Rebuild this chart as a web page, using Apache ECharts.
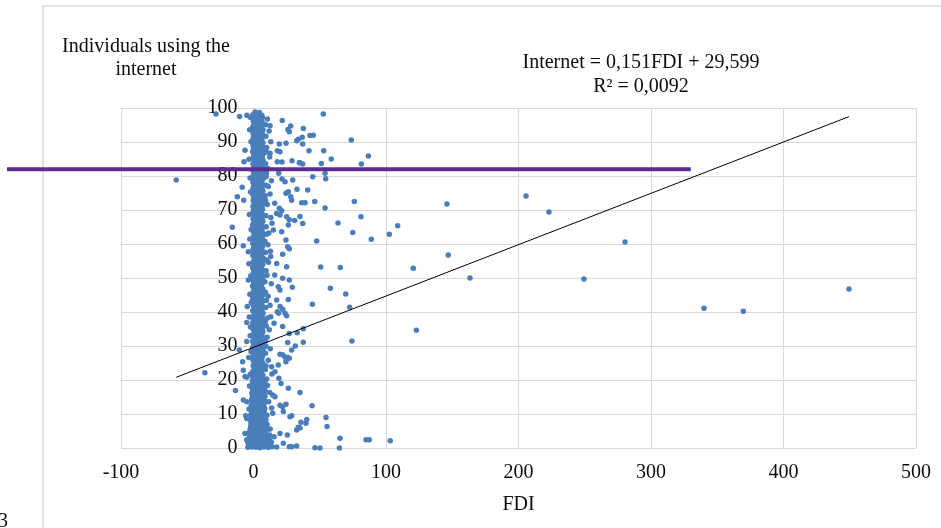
<!DOCTYPE html>
<html>
<head>
<meta charset="utf-8">
<script src="https://cdn.jsdelivr.net/npm/echarts@6/dist/echarts.min.js"></script>
<style>
  html, body { margin: 0; padding: 0; background: #ffffff; }
  #chart { width: 941px; height: 528px; }
</style>
</head>
<body>
<div id="chart"></div>
<script>
// FDI (x) versus individuals using the internet (y), one point per observation.

// Axis ticks
const xTicks = [-100, 0, 100, 200, 300, 400, 500];
const yTicks = [0, 10, 20, 30, 40, 50, 60, 70, 80, 90, 100];

// Linear fit reported on the chart
const fitSlope = 0.151;
const fitIntercept = 29.599;
const fitLabel = 'Internet = 0,151FDI + 29,599\nR\u00B2 = 0,0092';

// Reference level drawn as a horizontal band marker
const markerLevel = 82;
const markerRightFDI = 330;

// Observations far from the main cluster
const farPoints = [
  [52.7,98.2],[37.6,94.0],[42.6,91.9],[45.1,92.0],[36.8,91.4],[37.1,89.4],[73.8,90.6],[41.9,87.4],
  [53,87.4],[58.7,85.0],[86.7,85.9],[51.2,83.7],[81.4,83.5],[37.1,83.5],[35.1,83.9],[54,80.8],
  [54.5,79.2],[44.7,79.8],[40.9,75.9],[36.4,72.1],[38.9,72.1],[46.2,72.5],[76.1,72.5],[54,70.6],
  [146,71.8],[35.1,68.1],[81.1,68.0],[37.1,66.0],[63.8,66.2],[108.8,65.4],[74.9,63.4],[102.5,62.9],
  [88.9,61.4],[47.7,60.9],[147,56.8],[50.7,53.2],[65.5,53.1],[120.6,52.9],[163.4,50.0],[58,47.0],
  [69.6,45.3],[44.4,42.3],[72.6,41.4],[37.6,35.1],[122.9,34.6],[37.6,31.1],[74.3,31.5],[35.1,16.3],
  [44.2,12.4],[35.8,7.6],[39.6,7.3],[40.2,8.4],[35.1,5.9],[54.7,9.0],[55.5,6.3],[65.3,2.9],
  [84.9,2.4],[87.4,2.4],[103.2,2.1],[46.4,0.1],[50.2,0],[64.8,0],
  [280.4,60.6],[340,41.1],[369.7,40.2],[449.4,46.8],[205.7,74.1],[223,69.4],[249.4,49.7]
];

// Negative FDI observations
const negativePoints = [
  [-58.3,78.8],[-28.3,98.2],[-36.7,22.1],[-13.6,16.9],[-10.5,97.5],[-5,97.9],[-6.4,87.6],[-7.2,84.2],
  [-8.5,76.7],[-12.2,73.9],[-7.4,72.9],[-16,64.9],[-7.7,59.5],[-3.9,57.7],[-10.7,28.8],[-5.1,36.9],
  [-4.7,41.6],[-8.2,25.4],[-7.7,22.9],[-6.4,21],[-5.1,20.8],[-7.7,14.1],[-5.1,13.6],[-5.9,9.5],
  [-5.1,8.7],[-6.4,4.3],[-5.1,2.4],[-3.9,49.4],[-5.1,31.3]
];

// Observations just to the right of the cluster (FDI roughly 10 to 35)
const nearPoints = [
  [12.5,94.8],[21.7,96.3],[28.1,94.7],[26,93.7],[27,93],[33.8,90.8],[32.6,90.4],[13,90.1],
  [19.5,89.4],[24.5,89.6],[18,87.4],[20,87.1],[12.5,86.7],[18,84.2],[21.5,84.1],[29.1,84.5],
  [34.6,83.9],[19,80.8],[21.5,79.1],[23.8,78.3],[29.6,78.8],[26.3,75.4],[24.5,74.9],[32.8,76.1],
  [12.5,74.7],[28.1,73.9],[28.8,72.9],[16,72],[19.5,70.5],[21.3,69.8],[17.5,69],[20,68.5],
  [25,68],[27,67.1],[14,66.1],[31.1,66.9],[26.3,65.6],[21.3,63.6],[15,64.1],[24.5,61.2],
  [25.8,59.2],[27,58.6],[22,57],[13,56.3],[17.5,54.3],[25,53.3],[16,50.9],[22,49.9],
  [27,49.4],[18.7,47.4],[20,46.5],[29.3,47.3],[26.3,43.7],[17.5,43.5],[20,41.6],[22,40.8],
  [18,40.1],[19,39.6],[23.8,39.6],[25,38.9],[13,38.6],[15.5,36.7],[22,35.7],[33,33.9],
  [27,33.7],[25.8,31],[31.5,30],[28.8,28.8],[22,27.4],[23.8,26.7],[25.5,26.7],[27,26.4],
  [20,27.6],[24.5,25.4],[18.7,24.4],[13.7,23.9],[16.2,22.4],[19.2,20.5],[20.8,19],[26.3,17.6],
  [14.5,15.6],[16.2,15.1],[20,12.6],[22,12.1],[24.5,12.9],[14.5,10.2],[22.5,10.7],[27.5,9.2],
  [28.8,9.5],[32.6,5.3],[33.8,6.1],[20,4.3],[25.5,3.8],[15.5,3.3],[27,0.4],[28.8,0.4],
  [32.6,0.6],[22.5,1.4]
];

// Edge of the cluster (FDI about -4 and 9 to 14)
const edgePoints = [
  [10.5,96.8],[11.8,93.2],[9.9,88.4],[12.2,85.6],[10.8,82.2],[13.5,78.6],[11.2,76.9],[10.4,71.6],
  [13.1,67.8],[11.6,63.2],[10.9,59.8],[12.8,57.9],[11.3,54.6],[10.2,50.8],[13.4,48.3],[11.0,44.6],
  [12.5,42.0],[10.6,38.2],[11.9,34.8],[10.3,32.6],[12.7,29.2],[11.1,25.8],[13.9,21.8],[10.6,18.4],
  [12.2,16.3],[11.5,13.6],[13.7,11.8],[-2.9,93.6],[-3.4,84.9],[-2.6,79.4],[-3.1,68.7],[-2.8,61.5],
  [-3.5,54.2],[-2.7,45.2],[-3.2,38.5],[-2.5,33.0],[-3.6,26.6],[-3.0,18.2],[-3.4,11.5],
  [9.3,95.1],[8.8,86.9],[9.5,79.8],[8.9,74.2],[9.6,65.1],[8.7,60.7],[9.8,55.3],[8.6,48.9],
  [9.7,43.4],[8.8,37.1],[9.4,29.9],[8.9,23.1],[9.9,20.3],[-1.9,90.1],[-2.2,75.3],[-1.8,64.3],
  [-2.1,50.6],[-1.7,42.8],[-2.3,35.6],[-1.9,28.4],[-2.4,21.7]
];

// Main cluster near zero FDI, by band of internet use
const cluster0to10 = [
  [-4.2,0.2],[-1.3,0.3],[1.8,0.2],[4.9,0.1],[8.0,0.3],[11.2,0.2],[14.0,0.4],[17.5,0.3],
  [-3.8,1.0],[-0.9,1.1],[2.2,0.9],[5.3,1.0],[8.4,1.2],[11.6,0.9],
  [-4.4,1.9],[-1.5,1.8],[1.6,2.0],[4.6,1.9],[7.7,1.8],[10.8,2.0],[13.5,1.7],
  [-3.6,2.7],[-0.7,2.8],[2.4,2.6],[5.5,2.7],[8.7,2.9],[11.9,2.6],
  [-2.9,3.6],[0.2,3.5],[3.3,3.7],[6.4,3.6],[9.5,3.4],[12.3,3.8],
  [-3.2,4.5],[-0.1,4.6],[3.0,4.4],[6.1,4.5],[9.1,4.7],
  [-2.6,5.4],[0.5,5.3],[3.6,5.5],[6.7,5.4],[9.8,5.2],[12.6,5.6],
  [-2.1,6.3],[0.8,6.2],[3.9,6.4],[7.0,6.3],[9.9,6.5],
  [-1.8,7.2],[1.1,7.1],[4.2,7.3],[7.3,7.2],[10.2,7.0],
  [-2.3,8.1],[0.6,8.2],[3.7,8.0],[6.8,8.1],[9.4,8.3],
  [-1.6,9.0],[1.3,9.1],[4.4,8.9],[7.5,9.0],
  [-2.0,9.8],[0.9,9.9],[4.0,9.7],[7.1,9.8],[10.1,9.6]
];
const cluster10to20 = [
  [-1.5,10.7],[1.7,10.6],[4.9,10.8],[8.0,10.7],
  [-0.9,11.6],[2.3,11.7],[5.4,11.5],[8.5,11.6],
  [-1.7,12.5],[1.4,12.4],[4.6,12.6],[7.7,12.5],
  [-1.1,13.4],[2.0,13.5],[5.2,13.3],[8.3,13.4],
  [-1.4,14.3],[1.8,14.2],[5.0,14.4],[8.1,14.3],
  [-0.8,15.2],[2.4,15.3],[5.6,15.1],[8.6,15.2],
  [-1.2,16.1],[1.9,16.0],[5.1,16.2],[7.9,16.1],
  [-0.6,17.0],[2.6,17.1],[5.7,16.9],[8.7,17.0],
  [-1.0,17.9],[2.1,17.8],[5.3,18.0],[8.2,17.9],
  [-0.5,18.8],[2.7,18.9],[5.8,18.7],[8.8,18.8],
  [-0.9,19.7],[2.3,19.6],[5.5,19.8],[8.4,19.7]
];
const cluster20to30 = [
  [-0.4,20.6],[3.1,20.5],[6.5,20.7],[0.2,21.5],[3.6,21.6],[7.0,21.4],
  [-0.7,22.4],[2.8,22.3],[6.1,22.5],[0.5,23.3],[3.9,23.4],[7.3,23.2],
  [-0.2,24.2],[3.3,24.1],[6.6,24.3],[9.4,24.2],[0.4,25.1],[3.7,25.2],[6.9,25.0],
  [-0.6,26.0],[2.9,26.1],[6.2,25.9],[0.1,26.9],[3.5,26.8],[6.8,27.0],
  [-0.3,27.8],[3.0,27.9],[6.4,27.7],[9.1,27.9],[0.6,28.7],[4.0,28.6],[7.2,28.8],
  [-0.5,29.6],[2.9,29.5],[6.3,29.7]
];
const cluster30to40 = [
  [0.3,30.5],[3.6,30.4],[6.9,30.6],[-0.6,31.4],[2.8,31.5],[6.1,31.3],[8.9,31.4],
  [0.2,32.3],[3.5,32.2],[6.7,32.4],[-0.4,33.2],[3.0,33.3],[6.4,33.1],
  [0.5,34.1],[3.9,34.0],[7.1,34.2],[-0.2,35.0],[3.2,35.1],[6.5,34.9],
  [0.4,35.9],[3.8,35.8],[7.0,36.0],[9.6,35.9],[-0.7,36.8],[2.7,36.9],[6.0,36.7],
  [0.0,37.7],[3.4,37.6],[6.7,37.8],[-0.3,38.6],[3.1,38.7],[6.5,38.5],
  [0.6,39.5],[3.9,39.4],[7.2,39.6]
];
const cluster40to50 = [
  [-0.5,40.4],[2.9,40.5],[6.3,40.3],[0.2,41.3],[3.6,41.2],[6.9,41.4],[9.3,41.3],
  [-0.4,42.2],[3.0,42.3],[6.4,42.1],[0.5,43.1],[3.8,43.0],[7.1,43.2],
  [-0.6,44.0],[2.8,44.1],[6.2,43.9],[0.3,44.9],[3.7,44.8],[7.0,45.0],
  [-0.2,45.8],[3.2,45.9],[6.6,45.7],[9.0,45.8],[0.4,46.7],[3.8,46.6],[7.1,46.8],
  [-0.7,47.6],[2.7,47.7],[6.0,47.5],[0.1,48.5],[3.5,48.4],[6.8,48.6],
  [-0.3,49.4],[3.1,49.5],[6.5,49.3]
];
const cluster50to60 = [
  [0.5,50.3],[3.9,50.2],[7.2,50.4],[-0.4,51.2],[3.0,51.3],[6.4,51.1],
  [0.2,52.1],[3.6,52.0],[6.9,52.2],[9.5,52.1],[-0.6,53.0],[2.8,53.1],[6.1,52.9],
  [0.4,53.9],[3.8,53.8],[7.0,54.0],[-0.2,54.8],[3.3,54.9],[6.6,54.7],
  [0.6,55.7],[4.0,55.6],[7.3,55.8],[-0.5,56.6],[2.9,56.7],[6.2,56.5],
  [0.1,57.5],[3.5,57.4],[6.8,57.6],[9.2,57.5],[-0.3,58.4],[3.1,58.5],[6.5,58.3],
  [0.3,59.3],[3.7,59.2],[7.0,59.4]
];
const cluster60to70 = [
  [-0.6,60.2],[2.8,60.3],[6.2,60.1],[0.4,61.1],[3.8,61.0],[7.1,61.2],
  [-0.2,62.0],[3.2,62.1],[6.6,61.9],[0.5,62.9],[3.9,62.8],[7.2,63.0],[9.7,62.9],
  [-0.4,63.8],[3.0,63.9],[6.4,63.7],[0.2,64.7],[3.6,64.6],[6.9,64.8],
  [-0.7,65.6],[2.7,65.7],[6.1,65.5],[0.3,66.5],[3.7,66.4],[7.0,66.6],
  [-0.3,67.4],[3.1,67.5],[6.5,67.3],[0.6,68.3],[4.0,68.2],[7.3,68.4],[9.4,68.3],
  [-0.5,69.2],[2.9,69.3],[6.3,69.1]
];
const cluster70to80 = [
  [0.1,70.1],[3.5,70.0],[6.8,70.2],[-0.4,71.0],[3.0,71.1],[6.4,70.9],
  [0.5,71.9],[3.9,71.8],[7.2,72.0],[-0.2,72.8],[3.2,72.9],[6.6,72.7],[9.1,72.8],
  [0.3,73.7],[3.7,73.6],[7.0,73.8],[-0.6,74.6],[2.8,74.7],[6.2,74.5],
  [0.4,75.5],[3.8,75.4],[7.1,75.6],[-0.3,76.4],[3.1,76.5],[6.5,76.3],
  [0.2,77.3],[3.6,77.2],[6.9,77.4],[9.6,77.3],[-0.5,78.2],[2.9,78.3],[6.3,78.1],
  [0.6,79.1],[4.0,79.0],[7.3,79.2]
];
const cluster80to90 = [
  [-0.2,80.0],[3.3,80.1],[6.6,79.9],[0.4,80.9],[3.8,80.8],[7.1,81.0],[9.8,80.9],
  [-0.6,81.8],[2.8,81.9],[6.1,81.7],[0.2,82.7],[3.6,82.6],[6.9,82.8],
  [-0.4,83.6],[3.0,83.7],[6.4,83.5],[9.2,83.6],[0.5,84.5],[3.9,84.4],[7.2,84.6],
  [-0.3,85.4],[3.2,85.5],[6.5,85.3],[0.3,86.3],[3.7,86.2],[7.0,86.4],
  [-0.7,87.2],[2.7,87.3],[6.2,87.1],[9.5,87.2],[0.1,88.1],[3.5,88.0],[6.8,88.2],
  [-0.4,89.0],[3.0,89.1],[6.4,88.9]
];
const cluster90to100 = [
  [0.4,89.9],[3.8,90.0],[7.1,89.8],[-0.5,90.8],[2.9,90.9],[6.3,90.7],
  [0.2,91.7],[3.6,91.6],[6.9,91.8],[9.4,91.7],[-0.3,92.6],[3.1,92.7],[6.5,92.5],
  [0.5,93.5],[3.9,93.4],[7.2,93.6],[-0.6,94.4],[2.8,94.5],[5.9,94.3],
  [0.3,95.3],[3.7,95.2],[6.8,95.4],[-0.2,96.2],[3.2,96.3],[6.4,96.1],
  [0.1,97.1],[3.5,97.0],[6.7,97.2],[-2.5,97.3],[-0.4,98.0],[3.0,98.1],[6.2,97.9],
  [1.2,98.8],[4.5,98.7]
];

const observations = [].concat(
  cluster0to10, cluster10to20, cluster20to30, cluster30to40, cluster40to50,
  cluster50to60, cluster60to70, cluster70to80, cluster80to90, cluster90to100,
  edgePoints, nearPoints, farPoints, negativePoints
);

// Fit line spans the observed FDI range
const fdiValues = observations.map(p => p[0]);
const fdiMin = Math.min.apply(null, fdiValues);
const fdiMax = Math.max.apply(null, fdiValues);
const fitLine = [
  [fdiMin, fitSlope * fdiMin + fitIntercept],
  [fdiMax, fitSlope * fdiMax + fitIntercept]
];

const serif = '"Liberation Serif", "Times New Roman", serif';
const textColor = '#0d0d0d';
const gridColor = '#d9d9d9';

// Plot area
const gridLeft = 121;
const gridRight = 25;
const plotWidth = 941 - gridLeft - gridRight;
// The vertical axis crosses the horizontal one at FDI = 0
const yAxisShift = -plotWidth * (0 - xTicks[0]) / (xTicks[xTicks.length - 1] - xTicks[0]);

const chart = echarts.init(document.getElementById('chart'), null, { renderer: 'canvas' });

chart.setOption({
  backgroundColor: '#ffffff',
  animation: false,
  grid: { left: gridLeft, right: gridRight, top: 108, bottom: 80, containLabel: false },
  xAxis: {
    type: 'value',
    min: xTicks[0],
    max: xTicks[xTicks.length - 1],
    interval: 100,
    name: 'FDI',
    nameLocation: 'middle',
    nameGap: 47,
    nameTextStyle: { fontFamily: serif, fontSize: 20, color: textColor },
    axisLine: { show: false, onZero: false },
    axisTick: { show: false },
    axisLabel: { fontFamily: serif, fontSize: 20, color: textColor, margin: 15 },
    splitLine: { show: true, lineStyle: { color: gridColor, width: 1 } }
  },
  yAxis: {
    type: 'value',
    min: yTicks[0],
    max: yTicks[yTicks.length - 1],
    interval: 10,
    position: 'left',
    offset: yAxisShift,
    axisLine: { show: true, onZero: false, lineStyle: { color: gridColor, width: 1 } },
    axisTick: { show: false },
    axisLabel: { fontFamily: serif, fontSize: 20, color: textColor, margin: 16 },
    splitLine: { show: true, lineStyle: { color: gridColor, width: 1 } }
  },
  series: [
    {
      type: 'scatter',
      data: observations,
      symbol: 'circle',
      symbolSize: 5.5,
      itemStyle: { color: '#4a7ebb', opacity: 1 },
      z: 2
    },
    {
      type: 'line',
      data: fitLine,
      showSymbol: false,
      symbol: 'none',
      lineStyle: { color: '#000000', width: 1 },
      z: 3,
      silent: true
    }
  ],
  graphic: [
    {
      id: 'frame',
      type: 'rect',
      shape: { x: 43, y: 6, width: 1000, height: 600 },
      style: { fill: 'none', stroke: gridColor, lineWidth: 1.5 },
      z: -1,
      silent: true
    },
    {
      id: 'yTitle',
      type: 'text',
      x: 146,
      y: 58.5,
      style: {
        text: 'Individuals using the\ninternet',
        fontFamily: serif,
        fontSize: 20,
        lineHeight: 23,
        fill: textColor,
        align: 'center',
        verticalAlign: 'middle'
      }
    },
    {
      id: 'fitText',
      type: 'text',
      x: 641,
      y: 75,
      style: {
        text: fitLabel,
        fontFamily: serif,
        fontSize: 20,
        lineHeight: 24,
        fill: textColor,
        align: 'center',
        verticalAlign: 'middle'
      }
    },
    {
      id: 'cornerNote',
      type: 'text',
      x: 8,
      y: 522,
      style: {
        text: '3',
        fontFamily: serif,
        fontSize: 20,
        fill: textColor,
        align: 'right',
        verticalAlign: 'middle'
      }
    }
  ]
});

// Horizontal marker at the reference level, running from the left margin across the plot
const rightEnd = chart.convertToPixel({ gridIndex: 0 }, [markerRightFDI, markerLevel]);
chart.setOption({
  graphic: [
    {
      id: 'levelMarker',
      type: 'line',
      shape: { x1: 7, y1: rightEnd[1], x2: rightEnd[0], y2: rightEnd[1] },
      style: { stroke: '#5b2d90', lineWidth: 4 },
      z: 100,
      silent: true
    }
  ]
});
</script>
</body>
</html>
